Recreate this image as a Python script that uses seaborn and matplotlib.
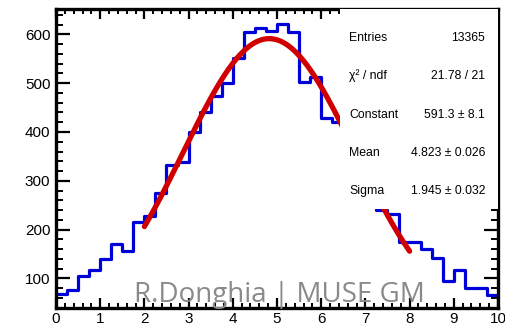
import numpy as np
import pandas as pd
import matplotlib
matplotlib.use("Agg")
import matplotlib.pyplot as plt
from matplotlib.ticker import MultipleLocator
import seaborn as sns

# Histogram: 40 bins of width 0.25 between 0 and 10
bin_edges = [i * 0.25 for i in range(41)]
counts = [69, 77, 105, 118, 139, 170, 157, 216, 227, 276,
          332, 339, 400, 441, 474, 501, 551, 605, 613, 607,
          622, 605, 503, 512, 428, 420, 380, 340, 295, 240,
          233, 175, 174, 161, 141, 95, 117, 80, 80, 66]

# Gaussian fit parameters and the fit range
fit_constant = 591.3
fit_mean = 4.823
fit_sigma = 1.945
fit_range = (2.0, 8.0)

stat_labels = ["Entries", "χ² / ndf", "Constant", "Mean", "Sigma"]
stat_values = ["13365", "21.78 / 21", "591.3 ± 8.1", "4.823 ± 0.026", "1.945 ± 0.032"]

watermark = "R.Donghia | MUSE GM"

sns.set_theme(style="white")
plt.rcParams["font.family"] = ["Liberation Sans", "DejaVu Sans"]

fig = plt.figure(figsize=(5.06, 3.28), dpi=100)
ax = fig.add_axes([56 / 506, (328 - 307.7) / 328, 442 / 506, 298.7 / 328])

centers = [0.5 * (a + b) for a, b in zip(bin_edges[:-1], bin_edges[1:])]
hist_df = pd.DataFrame({"x": centers, "w": counts})
sns.histplot(data=hist_df, x="x", weights="w", bins=bin_edges, element="step",
             fill=False, color="#0000d8", linewidth=2.3, ax=ax, zorder=2)

xf = np.linspace(fit_range[0], fit_range[1], 300)
yf = fit_constant * np.exp(-0.5 * ((xf - fit_mean) / fit_sigma) ** 2)
sns.lineplot(x=xf, y=yf, color="#d00000", linewidth=3.8, ax=ax, zorder=3)

ax.set_xlim(0, 10)
ax.set_ylim(40, 652)
ax.set_xlabel("")
ax.set_ylabel("")

ax.xaxis.set_major_locator(MultipleLocator(1))
ax.xaxis.set_minor_locator(MultipleLocator(0.2))
ax.yaxis.set_major_locator(MultipleLocator(100))
ax.yaxis.set_minor_locator(MultipleLocator(20))

ax.tick_params(axis="both", which="both", direction="in", colors="black",
               top=True, right=True, bottom=True, left=True)
ax.tick_params(axis="x", which="major", length=7, width=1.6, labelsize=11, pad=3)
ax.tick_params(axis="x", which="minor", length=3.5, width=1.4)
ax.tick_params(axis="y", which="major", length=10, width=1.6, labelsize=11, pad=4)
ax.tick_params(axis="y", which="minor", length=5, width=1.4)
for s in ax.spines.values():
    s.set_visible(True)
    s.set_color("black")
    s.set_linewidth(2.4)

# Statistics box
box_left = (340 - 56) / 442
box_bottom = (307.7 - 209) / 298.7
ax.add_patch(plt.Rectangle((box_left, box_bottom), 1 - box_left, 1 - box_bottom,
                           transform=ax.transAxes, facecolor="white",
                           edgecolor="none", zorder=4))
row_y = [0.904, 0.7757, 0.645, 0.517, 0.3907]
for lab, val, y in zip(stat_labels, stat_values, row_y):
    ax.text(0.663, y, lab, transform=ax.transAxes, ha="left", va="center",
            fontsize=8.8, color="black", zorder=5)
    ax.text(0.9706, y, val, transform=ax.transAxes, ha="right", va="center",
            fontsize=8.8, color="black", zorder=5)

fig.text(279 / 506, (328 - 302) / 328, watermark, ha="center", va="baseline",
         fontsize=20, color="#8a8a8a", family=["Open Sans", "DejaVu Sans"],
         zorder=10)

fig.savefig("out.png", dpi=100)
